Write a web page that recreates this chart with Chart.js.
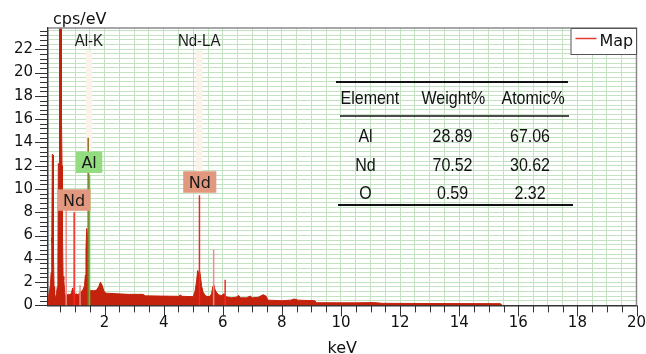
<!DOCTYPE html>
<html>
<head>
<meta charset="utf-8">
<title>EDS spectrum</title>
<script src="https://cdn.jsdelivr.net/npm/chart.js@4.4.1/dist/chart.umd.min.js"></script>
<style>
	html, body { margin: 0; padding: 0; background: #fff; }
	canvas { display: block; }
</style>
</head>
<body>
<canvas id="spectrum" width="646" height="354"></canvas>
<script>
/* Spectrum (keV / cps per eV) */
const energy = [
	0.085, 0.11, 0.14, 0.17, 0.19, 0.205, 0.22, 0.232, 0.258, 0.27,
	0.29, 0.31, 0.34, 0.37, 0.4, 0.42, 0.435, 0.46, 0.475, 0.53,
	0.54, 0.56, 0.575, 0.595, 0.62, 0.65, 0.68, 0.72, 0.78, 0.84,
	0.88, 0.92, 0.95, 0.99, 1.04, 1.1, 1.16, 1.22, 1.28, 1.32,
	1.35, 1.37, 1.395, 1.42, 1.44, 1.48, 1.53, 1.62, 1.72, 1.8,
	1.86, 1.92, 1.98, 2.05, 2.4, 2.8, 3.3, 3.38, 3.9, 4.5,
	4.56, 4.62, 5.0, 5.06, 5.11, 5.15, 5.18, 5.21, 5.24, 5.28,
	5.33, 5.42, 5.55, 5.62, 5.66, 5.7, 5.73, 5.78, 5.86, 5.96,
	6.04, 6.1, 6.3, 6.45, 6.54, 6.6, 6.8, 6.93, 7.0, 7.2,
	7.37, 7.46, 7.53, 8.0, 8.3, 8.42, 8.55, 9.12, 9.16, 10.5,
	11.1, 11.4, 13.0, 15.4, 15.45,
]
const counts = [
	0.5, 0.9, 1.3, 1.8, 2.8, 5.8, 5.4, 13.0, 12.9, 4.2,
	1.6, 0.8, 0.7, 1.0, 1.6, 3.5, 12.2, 11.8, 30, 30,
	15.9, 12.0, 6.0, 2.5, 2.2, 1.1, 0.8, 0.9, 0.95, 0.9,
	1.1, 1.5, 1.2, 0.9, 1.0, 0.9, 1.1, 1.2, 1.4, 1.7,
	2.6, 4.8, 6.6, 6.0, 2.0, 1.0, 1.3, 1.25, 1.3, 1.6,
	2.0, 1.7, 1.2, 1.05, 1.0, 0.95, 0.95, 0.82, 0.8, 0.78,
	0.9, 0.78, 0.75, 1.2, 2.0, 3.0, 2.7, 3.0, 2.6, 1.7,
	1.15, 0.8, 0.75, 1.0, 1.6, 1.75, 1.4, 1.15, 0.9, 0.85,
	1.0, 0.75, 0.65, 0.7, 0.85, 0.65, 0.65, 0.8, 0.65, 0.7,
	0.92, 0.8, 0.45, 0.4, 0.45, 0.55, 0.45, 0.4, 0.23, 0.22,
	0.24, 0.18, 0.16, 0.15, 0,
]

/* single channel lines over the spectrum */
const brightLineKeV = [0.97, 5.21, 6.08]
const brightLineCps = [8.0, 9.47, 2.2]
const paleLineKeV = [0.7, 1.17, 5.69]
const paleLineCps = [8.2, 1.75, 4.8]

/* Al K line */
const alPeakKeV = [1.445]
const alPeakCps = [14.4]
const alMarkKeV = [1.49]
const alMarkCps = [11.2]

/* line labels at the top and their bands */
const lineLabels = ['Al-K', 'Nd-LA']
const lineLabelKeV = [1.47, 5.2]
const bandFromCps = [12.3, 10.6]
const bandToCps = 21.9

/* element tags */
const tagText = ['Al', 'Nd', 'Nd']
const tagKeV = [1.475, 0.965, 5.22]
const tagCps = [12.3, 9.05, 10.6]
const tagFill = ['#93dc80', '#e2987e', '#e2987e']

/* quantification table */
const elements = ['Al', 'Nd', 'O']
const weightPct = ['28.89', '70.52', '0.59']
const atomicPct = ['67.06', '30.62', '2.32']

/* axes */
const xLabels = [2, 4, 6, 8, 10, 12, 14, 16, 18, 20]
const yLabels = [0, 2, 4, 6, 8, 10, 12, 14, 16, 18, 20, 22]
const xGrid = []
for (let i = 1; i <= 40; i++) xGrid.push(i / 2)
const yGrid = []
for (let i = 0; i <= 59; i++) yGrid.push((i * 2) / 5)

const gridGreen = '#c2e2c2'
const tickFont = { family: 'DejaVu Sans', size: 15 }

function spikes(keV, cps, base) {
	const pts = []
	keV.forEach((e, i) => {
		const b = Array.isArray(base) ? base[i] : base
		pts.push({ x: e, y: b }, { x: e, y: cps[i] }, { x: e, y: null })
	})
	return pts
}

function drawText(ctx, str, x, y, font, align, color, sy) {
	ctx.save()
	ctx.font = font
	ctx.fillStyle = color
	ctx.textAlign = align
	ctx.textBaseline = 'alphabetic'
	ctx.translate(x, y)
	ctx.scale(1, sy || 1)
	ctx.fillText(str, 0, 0)
	ctx.restore()
}

function hLine(ctx, x1, x2, y) {
	ctx.beginPath()
	ctx.moveTo(x1, y)
	ctx.lineTo(x2, y)
	ctx.stroke()
}

const decorations = {
	id: 'decorations',
	afterDraw(chart) {
		const { ctx, chartArea: a } = chart
		const x = chart.scales.x
		const y = chart.scales.y
		ctx.save()

		// frame
		ctx.strokeStyle = '#8a8a8a'
		ctx.lineWidth = 1.5
		ctx.beginPath()
		ctx.moveTo(a.left, a.top)
		ctx.lineTo(a.right, a.top)
		ctx.lineTo(a.right, a.bottom)
		ctx.stroke()

		// tick marks
		ctx.strokeStyle = '#333'
		ctx.lineWidth = 1
		x.ticks.forEach((t, i) => {
			const px = Math.round(x.getPixelForValue(t.value)) + 0.5
			const len = (i + 1) % 4 === 0 ? 11 : 7
			ctx.beginPath()
			ctx.moveTo(px, a.bottom)
			ctx.lineTo(px, a.bottom + len)
			ctx.stroke()
		})
		y.ticks.forEach((t, i) => {
			const py = Math.round(y.getPixelForValue(t.value)) + 0.5
			hLine(ctx, a.left - (i % 5 === 0 ? 13 : 8), a.left, py)
		})

		// axis titles
		drawText(ctx, 'cps/eV', a.left + 5, a.top - 4, '16px "DejaVu Sans"', 'left', '#111')
		drawText(ctx, 'keV', (a.left + a.right) / 2, 353, '16px "DejaVu Sans"', 'center', '#111')

		// line labels
		lineLabels.forEach((s, i) => {
			drawText(ctx, s, x.getPixelForValue(lineLabelKeV[i]), a.top + 17.5,
				'15px "Liberation Sans"', 'center', '#1a1a1a', 1.08)
		})

		// element tags
		ctx.font = '16px "DejaVu Sans"'
		tagText.forEach((s, i) => {
			const cx = x.getPixelForValue(tagKeV[i])
			const cy = y.getPixelForValue(tagCps[i])
			const w = ctx.measureText(s).width + 11
			const h = 21.5
			ctx.fillStyle = tagFill[i]
			ctx.fillRect(cx - w / 2, cy - h / 2, w, h)
			drawText(ctx, s, cx, cy + 6, '16px "DejaVu Sans"', 'center', '#1a1a1a')
		})

		// quantification table
		const tf = '16px "Liberation Sans"'
		const sy = 1.12
		ctx.strokeStyle = '#111'
		ctx.lineWidth = 2
		hLine(ctx, 336, 568, 82)
		ctx.lineWidth = 1.5
		hLine(ctx, 340, 569, 116)
		ctx.lineWidth = 2
		hLine(ctx, 338, 573, 205)
		drawText(ctx, 'Element', 340.5, 103.5, tf, 'left', '#111', sy)
		drawText(ctx, 'Weight%', 421.5, 103.5, tf, 'left', '#111', sy)
		drawText(ctx, 'Atomic%', 501.5, 103.5, tf, 'left', '#111', sy)
		const rowY = [141.5, 170.5, 198.5]
		elements.forEach((el, i) => {
			drawText(ctx, el, 365.5, rowY[i], tf, 'center', '#111', sy)
			drawText(ctx, weightPct[i], 452.5, rowY[i], tf, 'center', '#111', sy)
			drawText(ctx, atomicPct[i], 530, rowY[i], tf, 'center', '#111', sy)
		})

		// legend
		const lx = a.right - 66
		ctx.fillStyle = '#fff'
		ctx.fillRect(lx, a.top, 66, 26)
		ctx.strokeStyle = '#555'
		ctx.lineWidth = 1
		ctx.strokeRect(lx + 0.5, a.top + 0.5, 65.5, 26)
		ctx.strokeStyle = '#e23a32'
		ctx.lineWidth = 1.5
		hLine(ctx, lx + 5, lx + 26, a.top + 10.5)
		drawText(ctx, 'Map', lx + 29, a.top + 18, '16px "DejaVu Sans"', 'left', '#111')

		ctx.restore()
	},
}

const ctx = document.getElementById('spectrum')

new Chart(ctx, {
	type: 'line',
	data: {
		datasets: [
			{
				label: 'bands',
				data: spikes(lineLabelKeV, lineLabelKeV.map(() => bandToCps), bandFromCps),
				borderColor: '#fcf3e8',
				borderWidth: 6,
				order: 6,
			},
			{
				label: 'Map',
				data: energy.map((e, i) => ({ x: e, y: counts[i] })),
				borderColor: '#c4220c',
				backgroundColor: '#c4220c',
				borderWidth: 1,
				fill: 'origin',
				order: 5,
			},
			{
				label: 'pale',
				data: spikes(paleLineKeV, paleLineCps, 0),
				borderColor: '#f28a88',
				borderWidth: 1.5,
				order: 4,
			},
			{
				label: 'bright',
				data: spikes(brightLineKeV, brightLineCps, 0),
				borderColor: '#ff2424',
				borderWidth: 1.5,
				order: 3,
			},
			{
				label: 'Al peak',
				data: spikes(alPeakKeV, alPeakCps, 0),
				borderColor: '#8d6a24',
				borderWidth: 1.5,
				order: 2,
			},
			{
				label: 'Al mark',
				data: spikes(alMarkKeV, alMarkCps, 0),
				borderColor: '#3fd53a',
				borderWidth: 1.5,
				order: 1,
			},
		],
	},
	options: {
		responsive: false,
		animation: false,
		events: [],
		spanGaps: false,
		layout: { padding: { top: 28, right: 9.5, left: 0, bottom: 0 } },
		elements: {
			point: { radius: 0 },
			line: { tension: 0 },
		},
		plugins: {
			legend: { display: false },
			tooltip: { enabled: false },
		},
		scales: {
			x: {
				type: 'linear',
				min: 0.085,
				max: 20,
				afterBuildTicks: (s) => {
					s.ticks = xGrid.map((v) => ({ value: v }))
				},
				afterFit: (s) => {
					s.height = 48.6
					s.paddingLeft = 0
					s.paddingRight = 0
				},
				ticks: {
					autoSkip: false,
					maxRotation: 0,
					padding: 9,
					color: '#111',
					font: tickFont,
					callback: (v) => (xLabels.includes(v) ? String(v) : ''),
				},
				grid: { color: gridGreen, drawTicks: false },
				border: { color: '#333', width: 1.5 },
			},
			y: {
				type: 'linear',
				min: 0,
				max: 23.83,
				afterBuildTicks: (s) => {
					s.ticks = yGrid.map((v) => ({ value: v }))
				},
				afterFit: (s) => {
					s.width = 48
					s.paddingTop = 0
					s.paddingBottom = 0
				},
				ticks: {
					autoSkip: false,
					padding: 15,
					color: '#111',
					font: tickFont,
					callback: (v, i) => (i % 5 === 0 ? String(yLabels[i / 5]) : ''),
				},
				grid: { color: gridGreen, drawTicks: false },
				border: { color: '#333', width: 1.5 },
			},
		},
	},
	plugins: [decorations],
})
</script>
</body>
</html>
